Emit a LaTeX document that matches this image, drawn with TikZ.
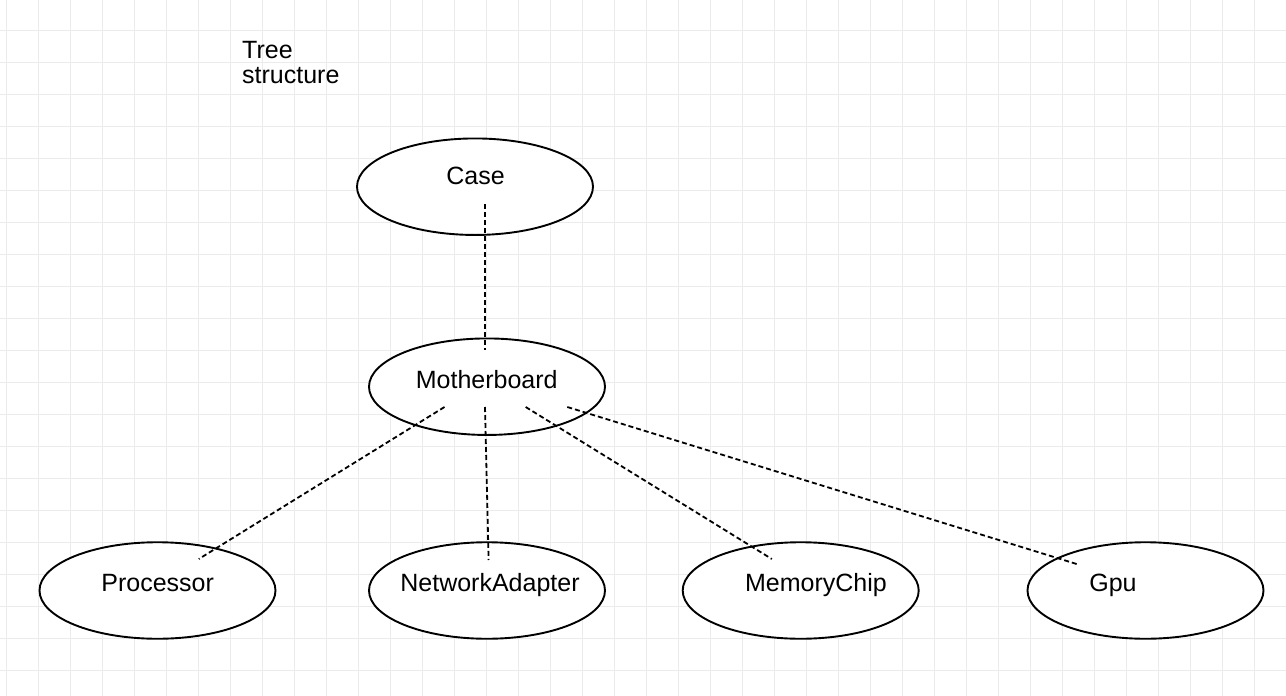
\documentclass[tikz,border=0pt]{standalone}
\usepackage{fontspec}
\setmainfont{Liberation Sans}
\usetikzlibrary{shapes.geometric}
\definecolor{gridc}{HTML}{EBEBEB}
\tikzset{
  ell/.style={ellipse, draw=black, line width=1.9pt, minimum width=236pt, minimum height=96.5pt, inner sep=0pt, fill=white},
  lbl/.style={anchor=base, inner sep=0pt, font=\fontsize{25}{24.4}\selectfont},
  link/.style={draw=black, line width=1.8pt, dash pattern=on 5pt off 3pt},
}
\begin{document}
\begin{tikzpicture}[x=1pt,y=-1pt]
\useasboundingbox (0,0) rectangle (1286,696);
\fill[white] (0,0) rectangle (1286,696);
% grid
\foreach \gx in {6,38,...,1286} \draw[gridc, line width=1pt] (\gx,0) -- (\gx,696);
\foreach \gy in {-2,30,...,696} \draw[gridc, line width=1pt] (0,\gy) -- (1286,\gy);

\node[lbl, anchor=base west, align=left] (title) at (242,83.3) {Tree\\structure};

% ellipses
\node[ell] (case) at (475,186.7) {};
\node[ell] (mb) at (487,386.7) {};
\node[ell] (proc) at (157.5,590.5) {};
\node[ell] (net) at (487,590.5) {};
\node[ell] (mem) at (800.7,590.5) {};
\node[ell] (gpu) at (1145.5,590.5) {};

% labels
\node[lbl] (caset) at (475.5,184) {Case};
\node[lbl] (mbt) at (486.7,388.3) {Motherboard};
\node[lbl] (proct) at (157.7,591.7) {Processor};
\node[lbl] (nett) at (490,591.7) {NetworkAdapter};
\node[lbl] (memt) at (816,591.7) {MemoryChip};
\node[lbl] (gput) at (1113,591.7) {Gpu};

% connector end points
\coordinate (caseB) at (485,204);
\coordinate (mbT) at (485,350);
\coordinate (mbP) at (444.5,407);
\coordinate (mbN) at (485,407);
\coordinate (mbM) at (525.7,407);
\coordinate (mbG) at (567.3,407);
\coordinate (procT) at (198.8,559);
\coordinate (netT) at (488.6,560);
\coordinate (memT) at (771.8,559);
\coordinate (gpuT) at (1077.6,564.3);

\draw[link] (caseB) -- (mbT);
\draw[link] (mbP) -- (procT);
\draw[link] (mbN) -- (netT);
\draw[link] (mbM) -- (memT);
\draw[link] (mbG) -- (gpuT);
\end{tikzpicture}
\end{document}
